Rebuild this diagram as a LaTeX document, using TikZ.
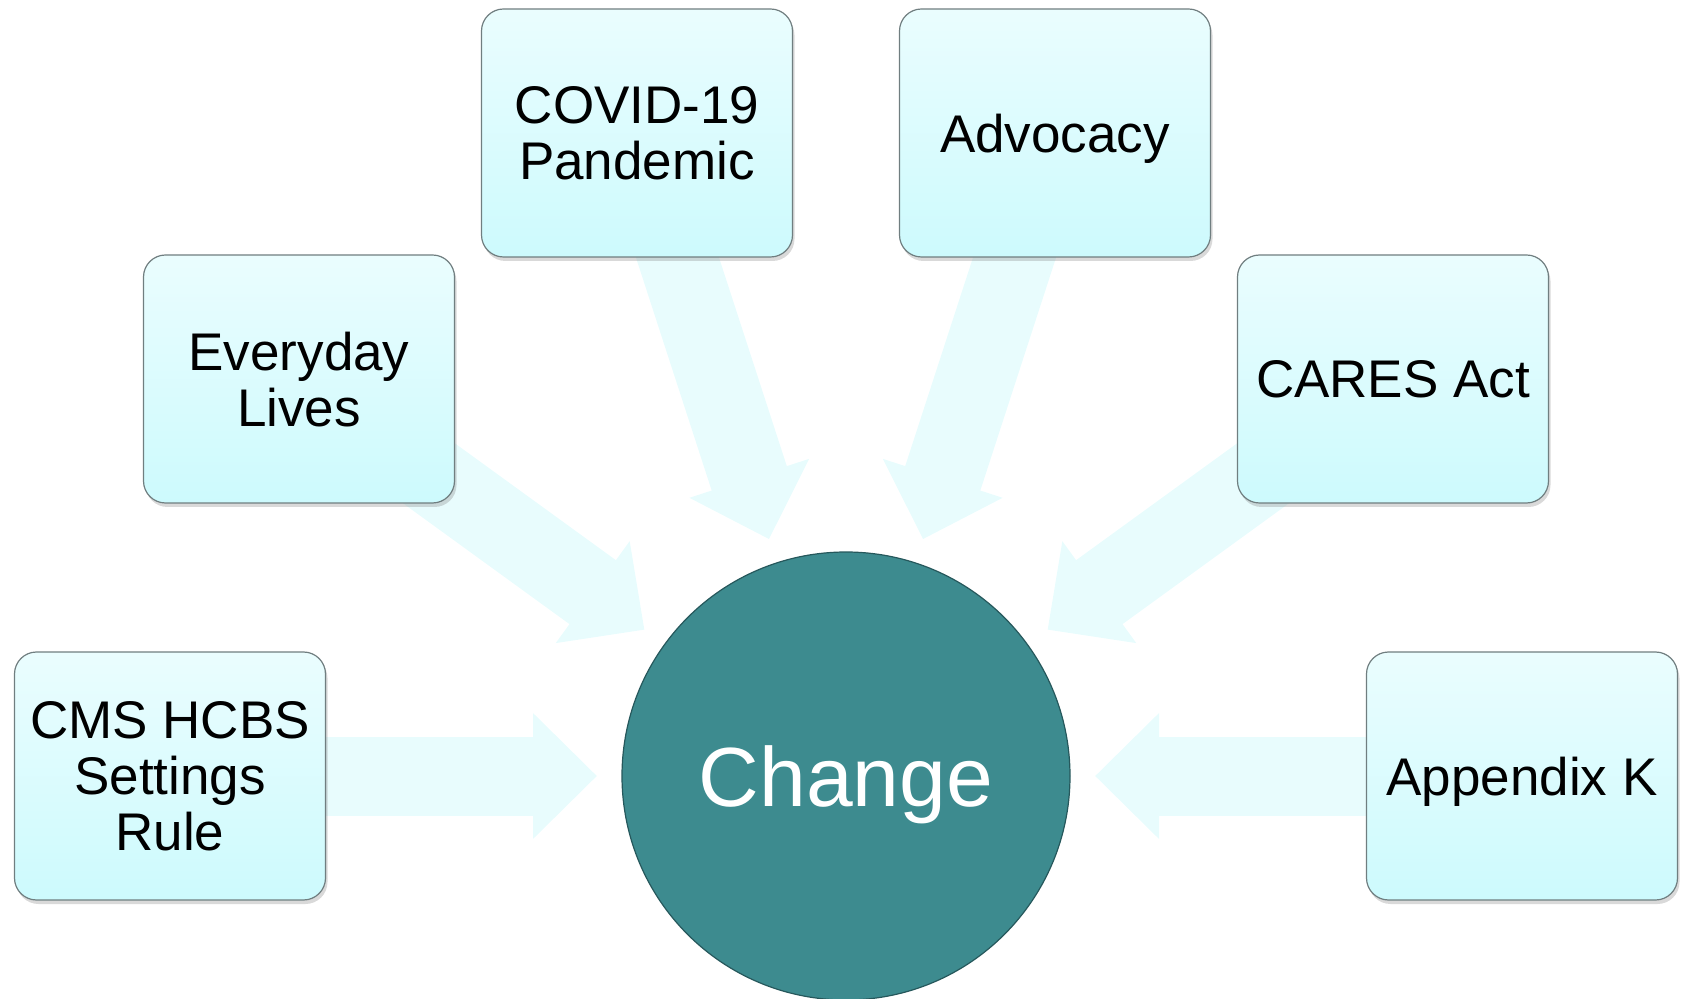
\documentclass[tikz,border=0pt]{standalone}
\usepackage{fontspec}
\setmainfont{Liberation Sans}
\usetikzlibrary{arrows.meta,calc,backgrounds,shadows}

\definecolor{boxtop}{RGB}{234,253,254}
\definecolor{boxbot}{RGB}{205,250,253}
\definecolor{boxline}{RGB}{112,126,128}
\definecolor{pushfill}{RGB}{232,252,253}
\definecolor{hubfill}{RGB}{61,139,143}
\definecolor{hubline}{RGB}{38,88,92}

\tikzset{every picture/.style={line width=0.75pt}}
\tikzset{
  factor/.style={rectangle, rounded corners=11pt, draw=boxline, line width=0.6pt,
    top color=boxtop, bottom color=boxbot, minimum width=155.5pt, minimum height=124pt,
    align=center, text depth=0pt, font=\fontsize{26.5}{28}\selectfont,
    drop shadow={shadow xshift=1pt, shadow yshift=-2pt, opacity=0.3}},
  hub/.style={circle, draw=hubline, line width=0.6pt, fill=hubfill, minimum size=224pt,
    text=white, text depth=0pt, font=\fontsize{42}{46}\selectfont},
  push/.style={draw=pushfill, line width=39.5pt, -{Triangle[width=61pt,length=32pt]}}
}

\begin{document}
\begin{tikzpicture}[x=0.5pt,y=0.5pt,yscale=-1,xscale=1]
\useasboundingbox (0,0) rectangle (1681,999);

% centre
\node [hub] (chg) at (846,776) {Change};

% the six factors
\node [factor] (cms) at (170,776) {CMS HCBS\\Settings\\Rule};
\node [factor] (life) at (299,379) {Everyday\\Lives};
\node [factor] (covid) at (637,133) {COVID-19\\Pandemic};
\node [factor] (advo) at (1055,133) {Advocacy};
\node [factor] (cares) at (1393,379) {CARES Act};
\node [factor] (appk) at (1522,776) {Appendix K};

% block arrows behind the boxes
\begin{scope}[on background layer]
\foreach \f in {cms,life,covid,advo,cares,appk}
  \draw [push] (\f.center) -- ($(chg.center)!124.5pt!(\f.center)$);
\end{scope}

\end{tikzpicture}
\end{document}
